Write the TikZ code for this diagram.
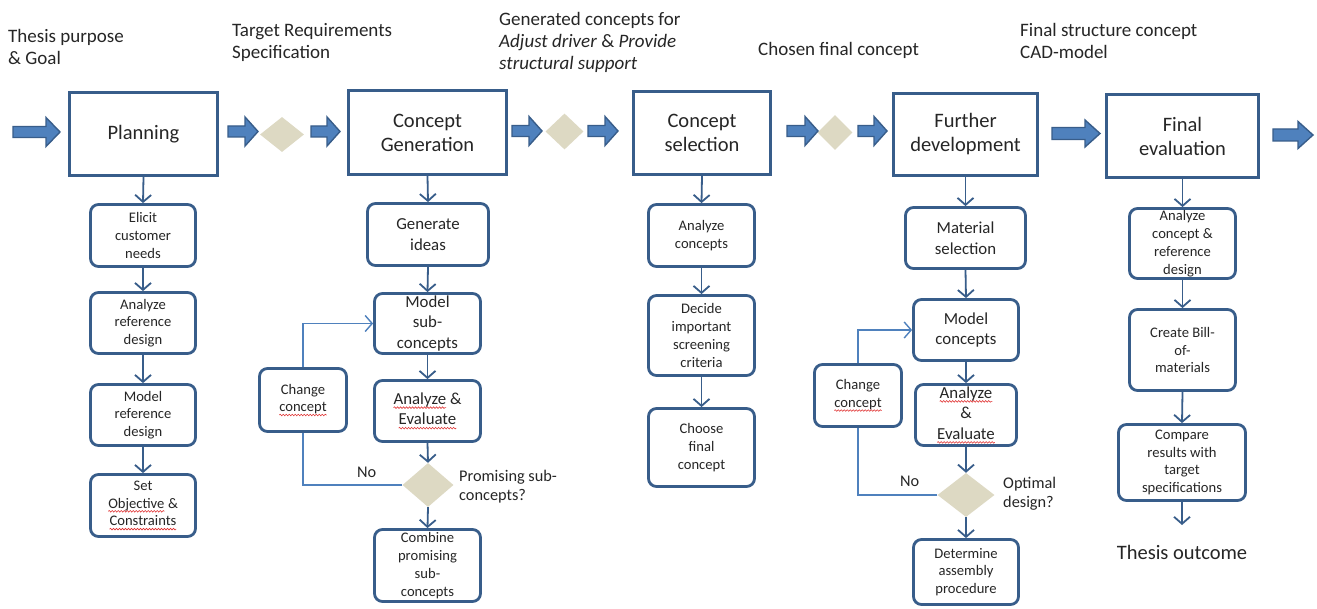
\documentclass[tikz,border=0pt]{standalone}
\usepackage{fontspec}
\setmainfont{Carlito}
\usetikzlibrary{arrows.meta,shapes.geometric,decorations.pathmorphing}

\definecolor{boxblue}{HTML}{385D8A}
\definecolor{fillblue}{HTML}{4F81BD}
\definecolor{backblue}{HTML}{4F81BD}
\definecolor{diamondtan}{HTML}{DDD9C3}
\definecolor{ink}{HTML}{262626}
\definecolor{spellred}{HTML}{E03030}

% red wavy underline for flagged words
\newsavebox\spellbox
\newcommand\spellwave[1]{\sbox\spellbox{#1}%
  \begin{tikzpicture}[baseline=0pt,x=1pt,y=1pt]
    \node[inner sep=0pt, outer sep=0pt, draw=none, fill=none, shape=rectangle,
      minimum width=0pt, minimum height=0pt, anchor=base west] (w) at (0,0) {\usebox\spellbox};
    \draw[spellred, line width=0.6pt, rounded corners=0pt, decorate,
      decoration={snake, amplitude=0.8pt, segment length=3pt}] (0,-3.2) -- (\wd\spellbox,-3.2);
  \end{tikzpicture}}

% wide block arrow between stages: x-start, x-end, y-centre, head length, half head, half shaft
\newcommand\blockarrow[6]{%
  \draw[blockarrow] (#1,{#3-#6}) -- ({#2-#4},{#3-#6}) -- ({#2-#4},{#3-#5}) -- (#2,#3)
    -- ({#2-#4},{#3+#5}) -- ({#2-#4},{#3+#6}) -- (#1,{#3+#6}) -- cycle;}

\tikzset{
  mainbox/.style={draw=boxblue, line width=3pt, fill=white, inner sep=0pt,
    align=center, text=ink, font=\fontsize{20.5}{24}\selectfont},
  subbox/.style={draw=boxblue, line width=2.8pt, rounded corners=8pt, fill=white,
    inner sep=0pt, align=center, text=ink, font=\fontsize{14.6}{17.8}\selectfont},
  bigsub/.style={subbox, font=\fontsize{16.8}{20.5}\selectfont},
  decision/.style={diamond, fill=diamondtan, inner sep=0pt},
  flowarrow/.style={draw=boxblue, line width=1.8pt,
    -{Straight Barb[length=7pt,width=16pt,line width=1.8pt]}},
  backline/.style={draw=backblue, line width=1.4pt},
  backarrow/.style={backline, -{Straight Barb[length=7pt,width=16pt,line width=1.4pt]}},
  blockarrow/.style={draw=boxblue, line width=1.4pt, fill=fillblue},
  headtext/.style={anchor=base west, inner sep=0pt, align=left, text=ink,
    font=\fontsize{19}{22}\selectfont},
  smalltext/.style={anchor=base west, inner sep=0pt, align=left, text=ink,
    font=\fontsize{16.3}{19.5}\selectfont}
}

\begin{document}
\begin{tikzpicture}[x=1pt, y=-1pt]
\useasboundingbox[fill=white] (0,0) rectangle (1317,609);

% ---------- stage headers (placed at the baseline of their last line) ----------
\node[headtext] (h1) at (8,65) {Thesis purpose\\\& Goal};
\node[headtext] (h2) at (232,59) {Target Requirements\\Specification};
\node[headtext] (h3) at (499,70) {Generated concepts for\\\textit{Adjust driver} \& \textit{Provide}\\\textit{structural support}};
\node[headtext] (h4) at (758,56) {Chosen final concept};
\node[headtext] (h5) at (1020,59) {Final structure concept\\CAD-model};

% ---------- main stages ----------
\node[mainbox, minimum width=148, minimum height=83] (plan) at (143.5,134) {Planning};
\node[mainbox, minimum width=158, minimum height=84] (gen) at (427.5,132.5) {Concept\\Generation};
\node[mainbox, minimum width=137, minimum height=83] (sel) at (702,133) {Concept\\selection};
\node[mainbox, minimum width=144, minimum height=82] (dev) at (965.5,134.5) {Further\\development};
\node[mainbox, minimum width=152, minimum height=83] (fin) at (1182.5,136) {Final\\evaluation};

% gates between stages
\node[decision, minimum width=44, minimum height=35] (q1) at (282,134.5) {};
\node[decision, minimum width=38, minimum height=36] (q2) at (564.5,131.5) {};
\node[decision, minimum width=35, minimum height=35] (q3) at (835,132.5) {};

% block arrows along the process line
\blockarrow{13}{60}{132}{14}{14.5}{5.5}
\blockarrow{228}{258}{131.5}{13}{14.5}{5.5}
\blockarrow{311}{340}{131.5}{13}{14.5}{5.5}
\blockarrow{512}{542}{131}{13}{14.5}{5.5}
\blockarrow{588}{618}{131}{13}{14.5}{5.5}
\blockarrow{787}{818}{131}{13}{14.5}{5.5}
\blockarrow{858}{887}{131}{13}{14.5}{5.5}
\blockarrow{1052}{1100}{133.5}{15}{13.5}{6}
\blockarrow{1273}{1313}{135}{15}{13.5}{6}

% ---------- Planning ----------
\node[subbox, minimum width=105, minimum height=62] (p1) at (143,235.5) {Elicit\\customer\\needs};
\node[subbox, minimum width=105, minimum height=61] (p2) at (143,323) {Analyze\\reference\\design};
\node[subbox, minimum width=105, minimum height=61] (p3) at (143,415) {Model\\reference\\design};
\node[subbox, minimum width=105, minimum height=62] (p4) at (143,505.5) {Set\\\spellwave{Objective} \&\\\spellwave{Constraints}};
\draw[flowarrow] (plan.south) -- (p1.north);
\draw[flowarrow] (p1.south) -- (p2.north);
\draw[flowarrow] (p2.south) -- (p3.north);
\draw[flowarrow] (p3.south) -- (p4.north);

% ---------- Concept generation ----------
\node[bigsub, minimum width=121, minimum height=62] (g1) at (428,234.5) {Generate\\ideas};
\node[bigsub, minimum width=106, minimum height=60] (g2) at (427.5,323.5) {Model\\sub-\\concepts};
\node[bigsub, minimum width=106, minimum height=61] (g3) at (427.5,411) {\spellwave{Analyze} \&\\\spellwave{Evaluate}};
\node[decision, minimum width=51, minimum height=44] (gd) at (428,485) {};
\node[subbox, minimum width=106, minimum height=72] (g4) at (427.5,565.5) {Combine\\promising\\sub-\\concepts};
\node[subbox, minimum width=87, minimum height=63] (gc) at (303,400) {Change\\\spellwave{concept}};
\draw[flowarrow] (gen.south) -- (g1.north);
\draw[flowarrow] (g1.south) -- (g2.north);
\draw[flowarrow] (g2.south) -- (g3.north);
\draw[flowarrow] (g3.south) -- (gd.north);
\draw[flowarrow] (gd.south) -- (g4.north);
\draw[backline] (gd.west) -| (gc.south);
\draw[backarrow] (gc.north) |- (g2.west);
\node[smalltext] (gno) at (357,477.5) {No};
\node[smalltext] (gq) at (459,500.5) {Promising sub-\\concepts?};

% ---------- Concept selection ----------
\node[subbox, minimum width=106, minimum height=62] (s1) at (701.5,235.5) {Analyze\\concepts};
\node[subbox, minimum width=106, minimum height=80] (s2) at (701.5,335.5) {Decide\\important\\screening\\criteria};
\node[subbox, minimum width=106, minimum height=78] (s3) at (701.5,447.5) {Choose\\final\\concept};
\draw[flowarrow] (sel.south) -- (s1.north);
\draw[flowarrow] (s1.south) -- (s2.north);
\draw[flowarrow] (s2.south) -- (s3.north);

% ---------- Further development ----------
\node[bigsub, minimum width=120, minimum height=61] (d1) at (965.5,238) {Material\\selection};
\node[bigsub, minimum width=105, minimum height=61] (d2) at (966,330) {Model\\concepts};
\node[bigsub, minimum width=101, minimum height=61] (d3) at (966,415) {\spellwave{Analyze}\\\&\\\spellwave{Evaluate}};
\node[decision, minimum width=57, minimum height=44] (dd) at (966,495) {};
\node[subbox, minimum width=105, minimum height=65] (d4) at (966,572) {Determine\\assembly\\procedure};
\node[subbox, minimum width=87, minimum height=62] (dc) at (858,395.5) {Change\\\spellwave{concept}};
\draw[flowarrow] (dev.south) -- (d1.north);
\draw[flowarrow] (d1.south) -- (d2.north);
\draw[flowarrow] (d2.south) -- (d3.north);
\draw[flowarrow] (d3.south) -- (dd.north);
\draw[flowarrow] (dd.south) -- (d4.north);
\draw[backline] (dd.west) -| (dc.south);
\draw[backarrow] (dc.north) |- (d2.west);
\node[smalltext] (dno) at (900,486.5) {No};
\node[smalltext] (dq) at (1003,507.5) {Optimal\\design?};

% ---------- Final evaluation ----------
\node[subbox, minimum width=106, minimum height=70] (e1) at (1182.5,243.5) {Analyze\\concept \&\\reference\\design};
\node[subbox, minimum width=106, minimum height=81] (e2) at (1182.5,350) {Create Bill-\\of-\\materials};
\node[subbox, minimum width=127, minimum height=76] (e3) at (1182,462.5) {Compare\\results with\\target\\specifications};
\coordinate (etip) at (1182,525);
\node[text=ink, inner sep=0pt, font=\fontsize{20.5}{24}\selectfont] (outcome) at (1182,552) {Thesis outcome};
\draw[flowarrow] (fin.south) -- (e1.north);
\draw[flowarrow] (e1.south) -- (e2.north);
\draw[flowarrow] (e2.south) -- (e3.north);
\draw[flowarrow] (e3.south) -- (etip);
\end{tikzpicture}
\end{document}
